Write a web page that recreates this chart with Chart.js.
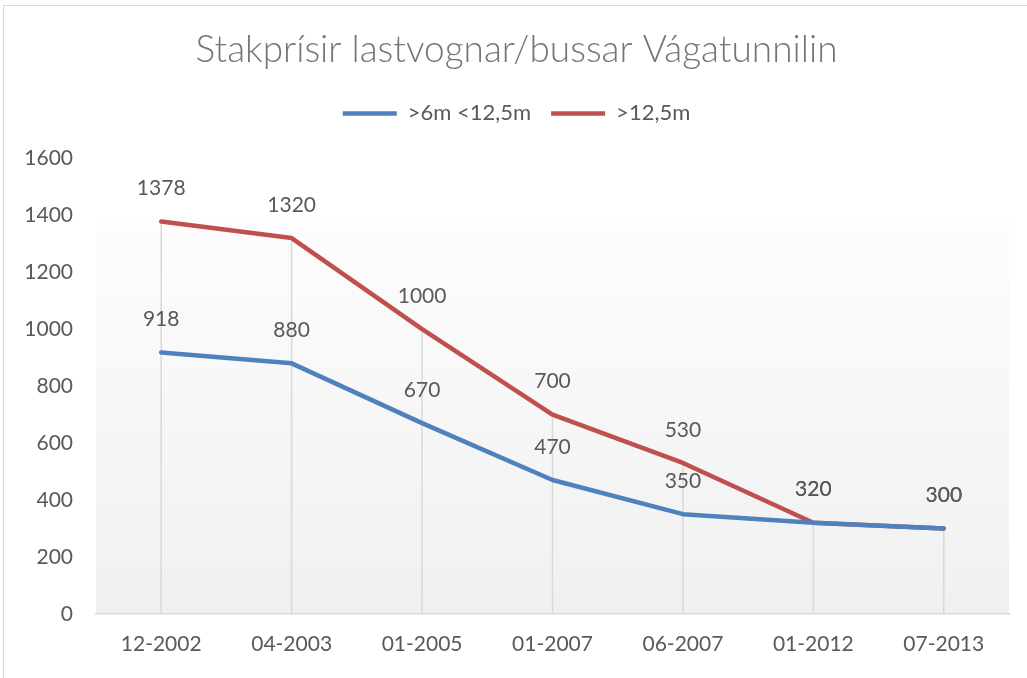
<!DOCTYPE html>
<html>
<head>
<meta charset="utf-8">
<script src="https://cdn.jsdelivr.net/npm/chart.js@4.4.1/dist/chart.umd.min.js"></script>
<style>
  html, body { margin: 0; padding: 0; background: #fff; overflow: hidden; }
  #frame { position: absolute; left: 3px; top: 5px; width: 1040px; height: 700px; border: 1px solid #d9d9d9; }
  #chart-container { position: absolute; left: 0; top: 0; width: 1027px; height: 678px; }
</style>
</head>
<body>
<div id="frame"></div>
<div id="chart-container"><canvas id="priceChart"></canvas></div>
<script>
// Tick labels and values
const periods = ['12-2002', '04-2003', '01-2005', '01-2007', '06-2007', '01-2012', '07-2013'];
const mediumVehicles = [918, 880, 670, 470, 350, 320, 300];   // >6m <12,5m
const largeVehicles = [1378, 1320, 1000, 700, 530, 320, 300]; // >12,5m
const yTicks = [0, 200, 400, 600, 800, 1000, 1200, 1400, 1600];

const textGray = '#595959';

// Soft grey gradient behind the plot, like the Excel plot area
const plotBackground = {
  id: 'plotBackground',
  beforeDraw(chart) {
    const { ctx, chartArea } = chart;
    const top = chartArea.top + (chartArea.bottom - chartArea.top) * 0.13;
    const grad = ctx.createLinearGradient(0, top, 0, chartArea.bottom);
    grad.addColorStop(0, '#fdfdfd');
    grad.addColorStop(1, '#f0f0f0');
    ctx.save();
    ctx.fillStyle = grad;
    ctx.fillRect(chartArea.left, top, chartArea.right - chartArea.left, chartArea.bottom - top);
    ctx.restore();
  }
};

// Drop lines from the highest point of each category down to the axis
const dropLines = {
  id: 'dropLines',
  beforeDatasetsDraw(chart) {
    const { ctx, chartArea } = chart;
    const metas = chart.getSortedVisibleDatasetMetas();
    ctx.save();
    ctx.strokeStyle = '#d9d9d9';
    ctx.lineWidth = 1.5;
    for (let i = 0; i < periods.length; i++) {
      let top = chartArea.bottom;
      metas.forEach((meta) => { top = Math.min(top, meta.data[i].y); });
      const x = metas[0].data[i].x;
      ctx.beginPath();
      ctx.moveTo(x, top);
      ctx.lineTo(x, chartArea.bottom);
      ctx.stroke();
    }
    ctx.restore();
  }
};

// Value labels above each point
const valueLabels = {
  id: 'valueLabels',
  afterDatasetsDraw(chart) {
    const { ctx } = chart;
    ctx.save();
    ctx.font = '21px Lato';
    ctx.fillStyle = textGray;
    ctx.textAlign = 'center';
    ctx.textBaseline = 'middle';
    chart.getSortedVisibleDatasetMetas().forEach((meta) => {
      const values = chart.data.datasets[meta.index].data;
      meta.data.forEach((pt, i) => {
        ctx.fillText(String(values[i]), pt.x, pt.y - 33);
      });
    });
    ctx.restore();
  }
};

// Extra room under the legend
const legendSpacing = {
  id: 'legendSpacing',
  beforeInit(chart) {
    const fit = chart.legend.fit;
    chart.legend.fit = function () {
      fit.bind(chart.legend)();
      this.height += 24;
    };
  }
};

const ctx = document.getElementById('priceChart').getContext('2d');
new Chart(ctx, {
  type: 'line',
  data: {
    labels: periods,
    datasets: [
      {
        label: '>6m <12,5m',
        data: mediumVehicles,
        borderColor: '#4f81bd',
        backgroundColor: '#4f81bd',
        borderWidth: 4.5,
        pointRadius: 0,
        borderJoinStyle: 'round',
        borderCapStyle: 'round',
        tension: 0
      },
      {
        label: '>12,5m',
        data: largeVehicles,
        borderColor: '#c0504d',
        backgroundColor: '#c0504d',
        borderWidth: 4.5,
        pointRadius: 0,
        borderJoinStyle: 'round',
        borderCapStyle: 'round',
        tension: 0
      }
    ]
  },
  options: {
    responsive: true,
    maintainAspectRatio: false,
    animation: false,
    layout: { padding: { top: 18, left: 24, right: 18, bottom: 3 } },
    plugins: {
      title: {
        display: true,
        text: 'Stakprísir lastvognar/bussar Vágatunnilin',
        color: '#757575',
        font: { family: 'Lato', size: 37, weight: 300 },
        padding: { top: 10, bottom: 10 }
      },
      legend: {
        position: 'top',
        labels: {
          color: textGray,
          font: { family: 'Lato', size: 22 },
          usePointStyle: true,
          pointStyle: 'line',
          pointStyleWidth: 54,
          padding: 20
        }
      },
      tooltip: { enabled: false }
    },
    scales: {
      x: {
        offset: true,
        grid: { color: 'transparent', drawTicks: false },
        border: { display: true, color: '#d9d9d9', width: 1.5 },
        ticks: { color: textGray, font: { family: 'Lato', size: 21 }, padding: 18 }
      },
      y: {
        min: 0,
        max: 1600,
        grid: { display: false, drawTicks: false },
        border: { display: false },
        afterBuildTicks(scale) { scale.ticks = yTicks.map((v) => ({ value: v })); },
        afterFit(scale) { scale.width = 72; },
        ticks: {
          color: textGray,
          font: { family: 'Lato', size: 21 },
          padding: 23,
          callback: (v) => String(v)
        }
      }
    }
  },
  plugins: [plotBackground, dropLines, valueLabels, legendSpacing]
});
</script>
</body>
</html>
